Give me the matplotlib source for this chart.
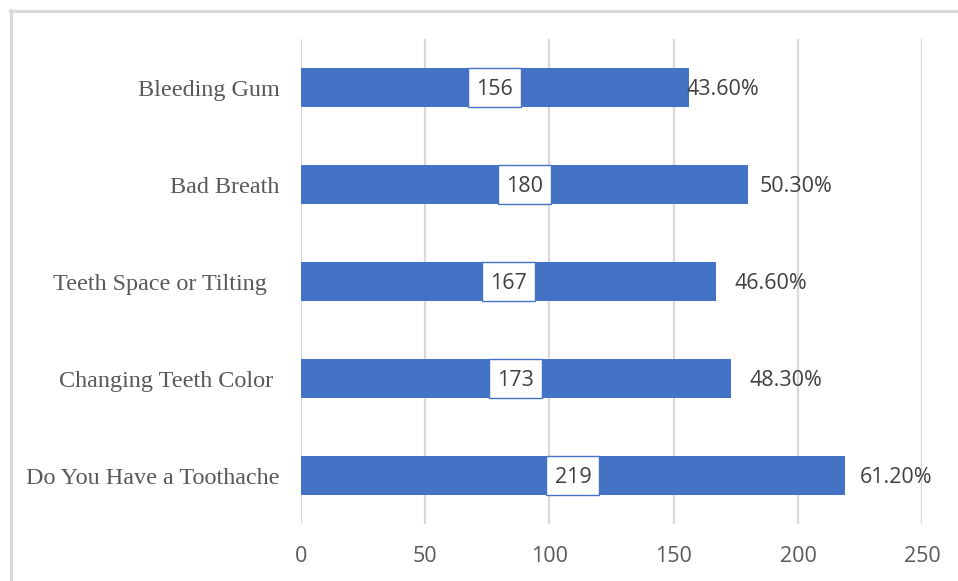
import matplotlib
matplotlib.use("Agg")
import matplotlib.pyplot as plt
from matplotlib.patches import Rectangle
from matplotlib.lines import Line2D
from matplotlib.transforms import offset_copy

# Survey responses (listed top to bottom)
categories = [
    "Bleeding Gum",
    "Bad Breath",
    "Teeth Space or Tilting  ",
    "Changing Teeth Color ",
    "Do You Have a Toothache",
]
counts = [156, 180, 167, 173, 219]
percent_labels = ["43.60%", "50.30%", "46.60%", "48.30%", "61.20%"]
x_ticks = [0, 50, 100, 150, 200, 250]

# Horizontal nudges (pixels) for the percentage labels beyond each bar end
pct_offsets_px = [-2, 11, 19, 19, 15]

BAR_COLOR = "#4472C4"
GRID_COLOR = "#D9D9D9"
TICK_COLOR = "#595959"
LABEL_COLOR = "#404040"
SANS = ["Open Sans", "DejaVu Sans"]
SERIF = ["Liberation Serif", "DejaVu Serif"]
NUM_SIZE = 15.5
# digits have no descenders: place the baseline half a digit height below centre
BASELINE_DROP_PX = 7.6

W, H, DPI = 958, 581, 100
fig = plt.figure(figsize=(W / DPI, H / DPI), dpi=DPI)
ax = fig.add_axes([300.7 / W, 1 - 524.3 / H, (922.3 - 300.7) / W, (524.3 - 39.3) / H])

y = list(range(len(categories)))
bar_h = 0.40
ax.barh(y, counts, height=bar_h, color=BAR_COLOR, zorder=2)

ax.set_xlim(x_ticks[0], x_ticks[-1])
ax.set_ylim(len(categories) - 0.5, -0.5)
ax.set_xticks(x_ticks)
ax.set_xticklabels([str(t) for t in x_ticks], family=SANS, fontsize=NUM_SIZE, color=TICK_COLOR)
ax.set_yticks(y)
ax.set_yticklabels(categories, family=SERIF, fontsize=17.4, color=TICK_COLOR)
ax.tick_params(axis="x", length=0, pad=15.5)
ax.tick_params(axis="y", length=0, pad=15.4)
for s in ax.spines.values():
    s.set_visible(False)
ax.grid(axis="x", color=GRID_COLOR, linewidth=1.6, zorder=0)
ax.set_axisbelow(True)

# Value labels sit in white boxes at the middle of each bar
box_px = 53
px_per_unit = (922.3 - 300.7) / (x_ticks[-1] - x_ticks[0])
box_w = box_px / px_per_unit
num_tr = offset_copy(ax.transData, fig=fig, x=0, y=-BASELINE_DROP_PX, units="dots")
for yi, v in zip(y, counts):
    ax.add_patch(Rectangle((v / 2 - box_w / 2, yi - bar_h / 2), box_w, bar_h,
                           facecolor="white", edgecolor=BAR_COLOR, linewidth=1.0, zorder=3))
    ax.text(v / 2, yi, str(v), transform=num_tr, ha="center", va="baseline",
            family=SANS, fontsize=NUM_SIZE, color=LABEL_COLOR, zorder=4)

# Percentage labels past the bar ends
for yi, v, lab, dx in zip(y, counts, percent_labels, pct_offsets_px):
    tr = offset_copy(ax.transData, fig=fig, x=dx, y=-BASELINE_DROP_PX, units="dots")
    ax.text(v, yi, lab, transform=tr, ha="left", va="baseline", family=SANS,
            fontsize=NUM_SIZE, color=LABEL_COLOR, zorder=4)

# Chart-area frame (top and left edges visible)
fig.add_artist(Line2D([10 / W, 1.0], [1 - 11 / H, 1 - 11 / H], transform=fig.transFigure,
                      color=GRID_COLOR, linewidth=2.2))
fig.add_artist(Line2D([11 / W, 11 / W], [0.0, 1 - 10 / H], transform=fig.transFigure,
                      color=GRID_COLOR, linewidth=2.2))

fig.savefig("out.png", dpi=DPI, facecolor="white")
